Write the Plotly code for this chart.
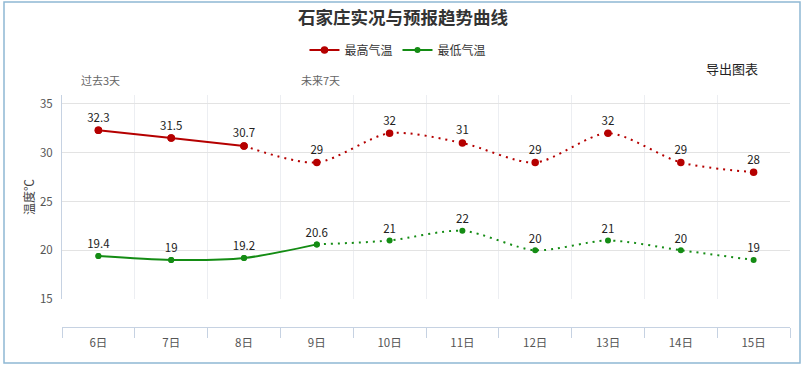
import plotly.graph_objects as go

days = ["6日", "7日", "8日", "9日", "10日", "11日", "12日", "13日", "14日", "15日"]
max_temp = [32.3, 31.5, 30.7, 29, 32, 31, 29, 32, 29, 28]
min_temp = [19.4, 19, 19.2, 20.6, 21, 22, 20, 21, 20, 19]
max_label = ["32.3", "31.5", "30.7", "29", "32", "31", "29", "32", "29", "28"]
min_label = ["19.4", "19", "19.2", "20.6", "21", "22", "20", "21", "20", "19"]
max_obs_n = 3   # observed points (solid) for max
min_obs_n = 4   # observed points (solid) for min

RED = "#b50000"
GREEN = "#148c14"
FONT = "Noto Sans CJK SC, Noto Sans, sans-serif"

fig = go.Figure()

def add_series(name, vals, labels, nsolid, color, msize):
    fig.add_trace(go.Scatter(
        x=days[:nsolid], y=vals[:nsolid], mode="lines+markers", name=name,
        line=dict(color=color, width=2, shape="spline", smoothing=0.8),
        marker=dict(color=color, size=msize), legendgroup=name, hoverinfo="skip"))
    fig.add_trace(go.Scatter(
        x=days[nsolid - 1:], y=vals[nsolid - 1:], mode="lines", name=name,
        line=dict(color=color, width=2, shape="spline", smoothing=0.8, dash="2px,5px"),
        showlegend=False, legendgroup=name, hoverinfo="skip"))
    fig.add_trace(go.Scatter(
        x=days, y=vals, mode="markers+text", text=labels, textposition="top center",
        textfont=dict(size=11.5, color="#222", family=FONT),
        marker=dict(color=color, size=msize), showlegend=False, legendgroup=name,
        hoverinfo="skip"))

add_series("最高气温", max_temp, max_label, max_obs_n, RED, 7.5)
add_series("最低气温", min_temp, min_label, min_obs_n, GREEN, 6)

fig.update_layout(
    xaxis=dict(type="category", categoryorder="array", categoryarray=days,
               range=[-0.5, 9.5], anchor="free", position=0,
               showline=True, linecolor="#c6d2e2", linewidth=1,
               ticks="outside", ticklen=10, tickcolor="#c6d2e2", tickson="boundaries",
               showgrid=True, gridcolor="#eceef2", gridwidth=1,
               showticklabels=False, zeroline=False, fixedrange=True),
    xaxis2=dict(type="category", categoryorder="array", categoryarray=days,
                range=[-0.5, 9.5], overlaying="x", anchor="free", position=0,
                side="bottom", showline=False, showgrid=False,
                ticks="outside", ticklen=5, tickcolor="rgba(0,0,0,0)",
                tickfont=dict(size=11.5, color="#555", family=FONT), fixedrange=True),
    yaxis=dict(range=[15, 35.92], domain=[0.1207, 1], tickvals=[15, 20, 25, 30, 35],
               showgrid=True, gridcolor="#e3e3e3", gridwidth=1,
               showline=True, linecolor="#c6d2e2", zeroline=False,
               ticks="outside", ticklen=6, tickcolor="rgba(0,0,0,0)",
               tickfont=dict(size=11.5, color="#555", family=FONT),
               title=dict(text="温度℃", font=dict(size=12, color="#444", family=FONT),
                          standoff=2),
               fixedrange=True),
)
fig.add_trace(go.Scatter(x=days, y=[None] * len(days), xaxis="x2", showlegend=False,
                         hoverinfo="skip", mode="markers"))

fig.update_layout(
    width=806, height=368,
    margin=dict(l=62, r=16, t=95, b=41),
    paper_bgcolor="white", plot_bgcolor="white",
    font=dict(family=FONT, color="#333"),
    title=dict(text="<b>石家庄实况与预报趋势曲线</b>", x=0.5, xref="container",
               xanchor="center", y=1 - 18 / 368, yanchor="middle", yref="container",
               font=dict(size=17.5, color="#333", family=FONT)),
    legend=dict(orientation="h", x=0.4615, xanchor="center", y=1.194, yanchor="middle",
                font=dict(size=12, color="#333", family=FONT), itemwidth=30,
                bgcolor="rgba(0,0,0,0)"),
    showlegend=True,
)

fig.add_annotation(text="过去3天", xref="paper", yref="paper", x=(100 - 62) / 728,
                   y=1 + (95 - 80) / 232, showarrow=False, xanchor="center", yanchor="middle",
                   font=dict(size=11, color="#666", family=FONT))
fig.add_annotation(text="未来7天", xref="paper", yref="paper", x=(320 - 62) / 728,
                   y=1 + (95 - 80) / 232, showarrow=False, xanchor="center", yanchor="middle",
                   font=dict(size=11, color="#666", family=FONT))
fig.add_annotation(text="导出图表", xref="paper", yref="paper", x=(732 - 62) / 728,
                   y=1 + (95 - 68) / 232, showarrow=False, xanchor="center", yanchor="middle",
                   font=dict(size=13, color="#222", family=FONT))

fig.add_shape(type="rect", xref="paper", yref="paper",
              x0=(4 - 62) / 728, x1=(800 - 62) / 728,
              y0=(327 - 363) / 232, y1=1 + (95 - 2) / 232,
              line=dict(color="#8fb8d4", width=1.5), fillcolor="rgba(0,0,0,0)", layer="below")

fig.write_html("out.html", config={"displayModeBar": False},
               post_script="document.body.style.margin='0px';")
